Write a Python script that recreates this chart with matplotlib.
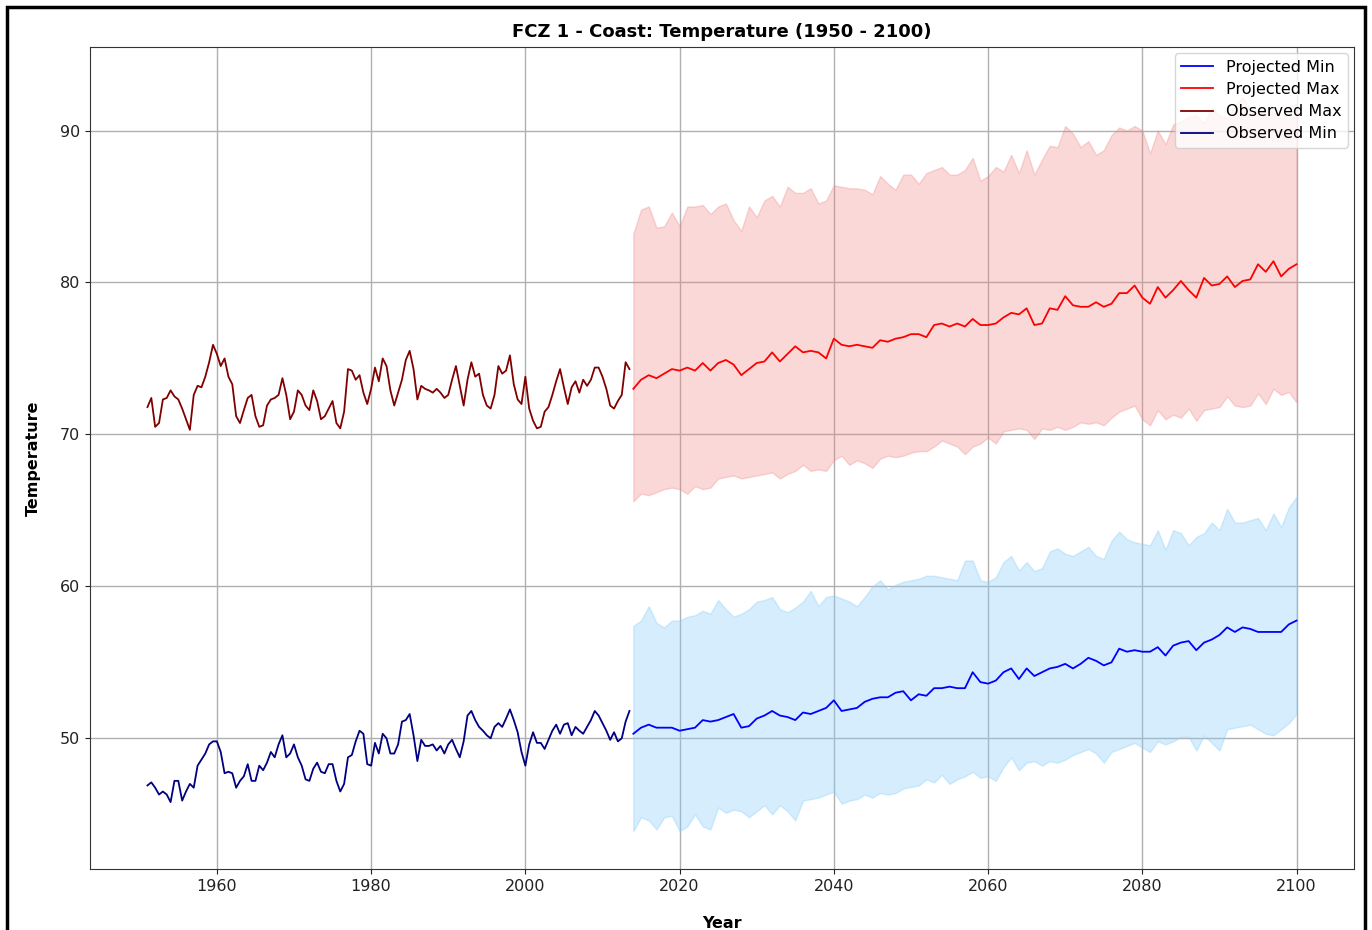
import numpy as np
import matplotlib
matplotlib.use('Agg')
import matplotlib.pyplot as plt
from matplotlib.patches import Rectangle

# observed series, half-year steps 1951.0 ... 2013.5
obs_years = np.arange(1951, 2014, 0.5)
obs_max = [71.8, 72.4, 70.5, 70.75, 72.3, 72.4, 72.9, 72.5, 72.3, 71.7,
           71.0, 70.3, 72.6, 73.2, 73.1, 73.8, 74.75, 75.9, 75.3, 74.5,
           75.0, 73.8, 73.3, 71.2, 70.75, 71.6, 72.4, 72.6, 71.2, 70.5,
           70.6, 71.9, 72.3, 72.4, 72.6, 73.7, 72.6, 71.0, 71.5, 72.9,
           72.6, 71.9, 71.6, 72.9, 72.2, 71.0, 71.2, 71.7, 72.2, 70.75,
           70.4, 71.5, 74.3, 74.2, 73.6, 73.9, 72.75, 72.0, 73.0, 74.4,
           73.5, 75.0, 74.5, 72.9, 71.9, 72.75, 73.6, 74.9, 75.5, 74.3,
           72.3, 73.2, 73.0, 72.9, 72.75, 73.0, 72.75, 72.4, 72.6, 73.6,
           74.5, 73.2, 71.9, 73.6, 74.75, 73.8, 74.0, 72.6, 71.9, 71.7,
           72.6, 74.5, 74.0, 74.2, 75.2, 73.3, 72.3, 72.0, 73.8, 71.7,
           70.9, 70.4, 70.5, 71.5, 71.8, 72.6, 73.5, 74.3, 73.1, 72.0,
           73.1, 73.5, 72.75, 73.6, 73.2, 73.6, 74.4, 74.4, 73.8, 73.0,
           71.9, 71.7, 72.2, 72.6, 74.75, 74.3]
obs_min = [46.9, 47.1, 46.75, 46.3, 46.5, 46.3, 45.8, 47.2, 47.2, 45.9,
           46.5, 47.0, 46.75, 48.2, 48.6, 49.0, 49.6, 49.8, 49.8, 49.1,
           47.7, 47.8, 47.7, 46.75, 47.2, 47.5, 48.3, 47.2, 47.2, 48.2,
           47.9, 48.4, 49.1, 48.75, 49.6, 50.2, 48.75, 49.0, 49.6, 48.75,
           48.2, 47.3, 47.2, 48.0, 48.4, 47.8, 47.7, 48.3, 48.3, 47.2,
           46.5, 47.0, 48.75, 48.9, 49.8, 50.5, 50.3, 48.3, 48.2, 49.7,
           49.0, 50.3, 50.0, 49.0, 49.0, 49.6, 51.1, 51.2, 51.6, 50.2,
           48.5, 49.9, 49.5, 49.5, 49.6, 49.2, 49.5, 49.0, 49.6, 49.9,
           49.3, 48.75, 49.8, 51.5, 51.8, 51.2, 50.75, 50.5, 50.2, 50.0,
           50.75, 51.0, 50.75, 51.3, 51.9, 51.2, 50.4, 49.1, 48.2, 49.6,
           50.4, 49.7, 49.7, 49.3, 49.9, 50.5, 50.9, 50.3, 50.9, 51.0,
           50.2, 50.75, 50.5, 50.3, 50.75, 51.2, 51.8, 51.5, 51.0, 50.5,
           49.9, 50.4, 49.8, 50.0, 51.1, 51.8]

# projected series, yearly 2014 ... 2100
proj_years = np.arange(2014, 2101)
proj_max = [73.0, 73.6, 73.9, 73.7, 74.0, 74.3, 74.2, 74.4, 74.2, 74.7,
            74.2, 74.7, 74.9, 74.6, 73.9, 74.3, 74.7, 74.8, 75.4, 74.8,
            75.3, 75.8, 75.4, 75.5, 75.4, 75.0, 76.3, 75.9, 75.8, 75.9,
            75.8, 75.7, 76.2, 76.1, 76.3, 76.4, 76.6, 76.6, 76.4, 77.2,
            77.3, 77.1, 77.3, 77.1, 77.6, 77.2, 77.2, 77.3, 77.7, 78.0,
            77.9, 78.3, 77.2, 77.3, 78.3, 78.2, 79.1, 78.5, 78.4, 78.4,
            78.7, 78.4, 78.6, 79.3, 79.3, 79.8, 79.0, 78.6, 79.7, 79.0,
            79.5, 80.1, 79.5, 79.0, 80.3, 79.8, 79.9, 80.4, 79.7, 80.1,
            80.2, 81.2, 80.7, 81.4, 80.4, 80.9, 81.2]
max_hi = [83.2, 84.8, 85.0, 83.6, 83.7, 84.6, 83.7, 85.0, 85.0, 85.1,
          84.5, 85.0, 85.2, 84.1, 83.4, 85.0, 84.3, 85.4, 85.7, 85.0,
          86.3, 85.9, 85.9, 86.2, 85.2, 85.4, 86.4, 86.3, 86.2, 86.2,
          86.1, 85.8, 87.0, 86.5, 86.1, 87.1, 87.1, 86.5, 87.2, 87.4,
          87.6, 87.1, 87.1, 87.4, 88.2, 86.7, 87.0, 87.6, 87.3, 88.4,
          87.2, 88.7, 87.1, 88.1, 89.0, 88.9, 90.3, 89.8, 88.9, 89.3,
          88.4, 88.7, 89.7, 90.2, 90.0, 90.3, 90.0, 88.5, 90.0, 89.1,
          90.4, 90.6, 90.9, 91.0, 90.5, 91.5, 91.0, 90.8, 91.6, 92.2,
          91.4, 91.0, 91.5, 91.2, 90.8, 91.5, 91.8]
max_lo = [65.6, 66.1, 66.0, 66.2, 66.4, 66.5, 66.4, 66.1, 66.6, 66.4,
          66.5, 67.1, 67.2, 67.3, 67.1, 67.2, 67.3, 67.4, 67.5, 67.1,
          67.4, 67.6, 68.0, 67.6, 67.7, 67.6, 68.3, 68.6, 68.0, 68.3,
          68.1, 67.8, 68.4, 68.6, 68.5, 68.6, 68.8, 68.9, 68.9, 69.2,
          69.6, 69.4, 69.2, 68.7, 69.2, 69.4, 69.8, 69.4, 70.2, 70.3,
          70.4, 70.3, 69.7, 70.4, 70.3, 70.5, 70.3, 70.5, 70.8, 70.7,
          70.8, 70.6, 71.1, 71.5, 71.7, 71.9, 71.0, 70.6, 71.6, 71.0,
          71.3, 71.1, 71.7, 70.9, 71.6, 71.7, 71.8, 72.5, 71.9, 71.8,
          71.9, 72.7, 72.0, 73.0, 72.6, 72.8, 72.1]
proj_min = [50.3, 50.7, 50.9, 50.7, 50.7, 50.7, 50.5, 50.6, 50.7, 51.2,
            51.1, 51.2, 51.4, 51.6, 50.7, 50.8, 51.3, 51.5, 51.8, 51.5,
            51.4, 51.2, 51.7, 51.6, 51.8, 52.0, 52.5, 51.8, 51.9, 52.0,
            52.4, 52.6, 52.7, 52.7, 53.0, 53.1, 52.5, 52.9, 52.8, 53.3,
            53.3, 53.4, 53.3, 53.3, 54.35, 53.7, 53.6, 53.8, 54.35, 54.6,
            53.9, 54.6, 54.1, 54.35, 54.6, 54.7, 54.9, 54.6, 54.9, 55.3,
            55.1, 54.8, 55.0, 55.9, 55.7, 55.8, 55.7, 55.7, 56.0, 55.45,
            56.1, 56.3, 56.4, 55.8, 56.3, 56.5, 56.8, 57.3, 57.0, 57.3,
            57.2, 57.0, 57.0, 57.0, 57.0, 57.5, 57.75]
min_hi = [57.4, 57.75, 58.7, 57.6, 57.3, 57.75, 57.75, 58.0, 58.1, 58.4,
          58.2, 59.1, 58.5, 58.0, 58.2, 58.5, 59.0, 59.1, 59.3, 58.5,
          58.3, 58.6, 59.0, 59.7, 58.7, 59.3, 59.4, 59.2, 59.0, 58.7,
          59.3, 60.0, 60.4, 59.8, 60.1, 60.3, 60.4, 60.5, 60.7, 60.7,
          60.6, 60.5, 60.4, 61.7, 61.7, 60.4, 60.3, 60.6, 61.6, 62.0,
          61.05, 61.6, 61.0, 61.2, 62.3, 62.5, 62.15, 62.0, 62.3, 62.6,
          62.0, 61.8, 63.0, 63.6, 63.1, 62.9, 62.8, 62.7, 63.7, 62.4,
          63.7, 63.5, 62.7, 63.25, 63.5, 64.2, 63.7, 65.1, 64.2, 64.2,
          64.35, 64.5, 63.7, 64.8, 63.9, 65.2, 65.9]
min_lo = [43.9, 44.8, 44.6, 44.0, 44.8, 44.9, 43.9, 44.2, 45.0, 44.2,
          44.0, 45.45, 45.1, 45.3, 45.2, 44.8, 45.2, 45.6, 45.0, 45.6,
          45.2, 44.6, 45.9, 46.0, 46.1, 46.3, 46.5, 45.7, 45.9, 46.0,
          46.3, 46.1, 46.4, 46.3, 46.4, 46.7, 46.8, 46.9, 47.3, 47.1,
          47.6, 47.0, 47.3, 47.5, 47.8, 47.4, 47.5, 47.2, 48.1, 48.75,
          47.9, 48.4, 48.5, 48.2, 48.5, 48.4, 48.6, 48.9, 49.1, 49.3,
          49.0, 48.4, 49.1, 49.3, 49.5, 49.7, 49.4, 49.1, 49.8, 49.6,
          49.8, 50.1, 50.1, 49.2, 50.2, 49.7, 49.2, 50.6, 50.7, 50.8,
          50.9, 50.6, 50.3, 50.2, 50.6, 51.0, 51.6]

plt.rcParams['font.family'] = 'DejaVu Sans'

fig = plt.figure(figsize=(13.72, 9.30), dpi=100)
ax = fig.add_axes([0.0656, 0.0656, 0.9213, 0.8839])

# frame of the screenshot
fig.patches.append(Rectangle((7/1372, -0.05), (1365-7)/1372, 1.05 - 7/930,
                             transform=fig.transFigure, fill=False,
                             edgecolor='black', linewidth=2.5))

ax.fill_between(proj_years, max_lo, max_hi, facecolor='lightcoral',
                edgecolor='lightcoral', alpha=0.3, linewidth=1)
ax.fill_between(proj_years, min_lo, min_hi, facecolor='lightskyblue',
                edgecolor='lightskyblue', alpha=0.35, linewidth=1)

ax.plot(proj_years, proj_min, color='blue', lw=1.3, label='Projected Min')
ax.plot(proj_years, proj_max, color='red', lw=1.3, label='Projected Max')
ax.plot(obs_years, obs_max, color='#800000', lw=1.3, label='Observed Max')
ax.plot(obs_years, obs_min, color='#000080', lw=1.3, label='Observed Min')

ax.set_xlim(1943.55, 2107.45)
ax.set_ylim(41.4, 95.5)
ax.set_xticks(np.arange(1960, 2101, 20))
ax.set_yticks(np.arange(50, 91, 10))
ax.grid(True, color='#b0b0b0', lw=1)
ax.set_axisbelow(True)
ax.tick_params(labelsize=11.5, colors='#222222')
for sp in ax.spines.values():
    sp.set_color('#333333')

ax.set_title('FCZ 1 - Coast: Temperature (1950 - 2100)', fontsize=13,
             fontweight='bold', pad=7)
ax.set_xlabel('Year', fontsize=11.5, fontweight='bold', labelpad=16)
ax.set_ylabel('Temperature', fontsize=11.5, fontweight='bold', labelpad=14)
ax.legend(loc='upper right', fontsize=11.5, handlelength=2.0,
          borderaxespad=0.4, labelspacing=0.45)

fig.savefig('out.png', dpi=100)
